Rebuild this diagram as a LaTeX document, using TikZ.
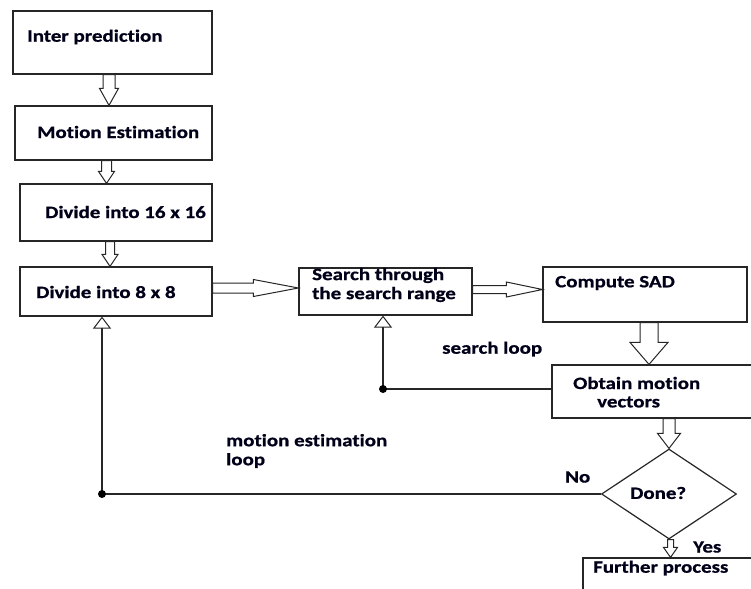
\documentclass[tikz,border=0pt]{standalone}
\usepackage{fontspec}
\setmainfont{Carlito}[FakeStretch=1.21, Ligatures=NoCommon, BoldFeatures={FakeBold=0.8}]
\usetikzlibrary{arrows.meta,calc,shapes.geometric}

\tikzset{
  box/.style={draw=black!85, line width=1.2pt, rectangle, inner sep=0pt},
  lbl/.style={font=\fontsize{17.3}{19}\selectfont\bfseries, text=black!90!blue,
              inner sep=0pt, anchor=west, align=left},
  blk/.style={draw=black!85, line width=1pt, fill=white, line join=miter},
  loopline/.style={draw=black!85, line width=1.2pt},
  openhead/.style={-{Triangle[open,width=18pt,length=12pt,line width=1pt]}},
  dot/.style={circle, fill=black, inner sep=0pt, minimum size=8pt},
}

% hollow block arrow pointing down: from, to, half shaft, half head, head length
\newcommand\downblock[5]{%
  \path[blk] let \p1=#1, \p2=#2 in
    (\x1-#3,\y1) -- (\x1-#3,\y2+#5) -- (\x1-#4,\y2+#5) -- (\x1,\y2)
    -- (\x1+#4,\y2+#5) -- (\x1+#3,\y2+#5) -- (\x1+#3,\y1) -- cycle;}
% hollow block arrow pointing right: from, to, half shaft, half head, head length
\newcommand\rightblock[5]{%
  \path[blk] let \p1=#1, \p2=#2 in
    (\x1,\y1+#3) -- (\x2-#5,\y1+#3) -- (\x2-#5,\y1+#4) -- (\x2,\y1)
    -- (\x2-#5,\y1-#4) -- (\x2-#5,\y1-#3) -- (\x1,\y1-#3) -- cycle;}

\begin{document}
\begin{tikzpicture}[x=1pt,y=-1pt]
\useasboundingbox (0,0) rectangle (751,588);
\clip (0,0) rectangle (751,588);

% process boxes
\node[box, minimum width=199pt, minimum height=63pt] (inter)   at (112.5,42.5) {};
\node[box, minimum width=197pt, minimum height=54pt] (motion)  at (113.5,133) {};
\node[box, minimum width=192pt, minimum height=57pt] (div16)   at (116,212.5) {};
\node[box, minimum width=192pt, minimum height=49pt] (div8)    at (116,291.5) {};
\node[box, minimum width=173pt, minimum height=47pt] (search)  at (385.5,291.5) {};
\node[box, minimum width=204pt, minimum height=55pt] (sad)     at (645,294.5) {};
\node[box, minimum width=228pt, minimum height=53pt] (obtain)  at (666,391.5) {};
\node[box, diamond, minimum width=135pt, minimum height=90pt] (done) at (669,494) {};
\node[box, minimum width=217pt, minimum height=62pt] (further) at (691.5,589) {};

% texts
\node[lbl] (tinter)   at (27,37)    {Inter prediction};
\node[lbl] (tmotion)  at (37,132)   {Motion Estimation};
\node[lbl] (tdiv16)   at (45,212)   {Divide into 16 x 16};
\node[lbl] (tdiv8)    at (36,292)   {Divide into 8 x 8};
\node[lbl] (tsearch)  at (312,285)  {Search through\\the search range};
\node[lbl] (tsad)     at (555,283)  {Compute SAD};
\node[lbl] (tobtain1) at (573,383)  {Obtain motion};
\node[lbl] (tobtain2) at (597,402)  {vectors};
\node[lbl] (tdone)    at (630,493)  {Done?};
\node[lbl] (tfurther) at (593,568)  {Further process};
\node[lbl] (tsl)      at (442,349)  {search loop};
\node[lbl] (tml)      at (226,451)  {motion estimation\\loop};
\node[lbl] (tno)      at (565,477)  {No};
\node[lbl] (tyes)     at (693,547)  {Yes};

% hollow block arrows between boxes
\downblock{([xshift=-3.5pt]inter.south)}{([xshift=-3.5pt]inter.south |- motion.north)}{6pt}{9.5pt}{17pt}
\downblock{([xshift=-7pt]motion.south)}{([xshift=-7pt]motion.south |- div16.north)}{5pt}{8pt}{12pt}
\downblock{([xshift=-6pt]div16.south)}{([xshift=-6pt]div16.south |- div8.north)}{4.5pt}{8pt}{12pt}
\rightblock{([yshift=3.5pt]div8.east)}{([yshift=3.5pt]div8.east -| search.west)}{5pt}{8.5pt}{45pt}
\rightblock{([yshift=2pt]search.east)}{([yshift=2pt]search.east -| sad.west)}{4pt}{7.5pt}{36pt}
\downblock{([xshift=4pt]sad.south)}{([xshift=4pt]sad.south |- obtain.north)}{9pt}{19pt}{22pt}
\downblock{(done.north |- obtain.south)}{(done.north)}{6pt}{11.5pt}{15pt}
\downblock{([xshift=1.5pt]done.south)}{([xshift=1.5pt]done.south |- further.north)}{3pt}{7pt}{10pt}

% search loop
\coordinate (slc) at (383,389);
\draw[loopline, openhead] ([yshift=2.5pt]obtain.west) -- (slc) -- (slc |- search.south);
\node[dot] (sldot) at (slc) {};

% motion estimation loop
\coordinate (mlc) at (102,494);
\draw[loopline, openhead] (done.west) -- (mlc) -- (mlc |- div8.south);
\node[dot] (mldot) at (mlc) {};
\end{tikzpicture}
\end{document}
